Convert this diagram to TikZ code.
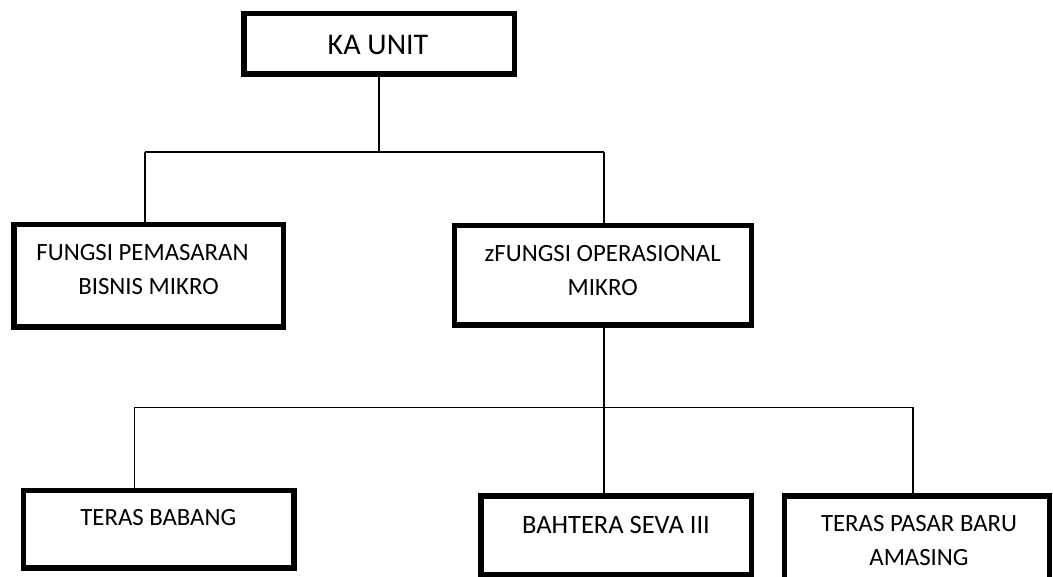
\documentclass[tikz,border=0pt]{standalone}
\usepackage{fontspec}
\setmainfont{Carlito}
\begin{document}
\begin{tikzpicture}[x=1pt,y=-1pt,
  box/.style={draw=black, line width=5.5pt, fill=white, inner sep=0pt},
  conn/.style={draw=black, line width=1.3pt},
  txt/.style={inner sep=0pt, align=center, text=black, font=\fontsize{24.8}{34}\selectfont},
  bigtxt/.style={inner sep=0pt, align=center, text=black, font=\fontsize{30}{36}\selectfont},
  midtxt/.style={inner sep=0pt, align=center, text=black, font=\fontsize{26.5}{34}\selectfont}]
\useasboundingbox (0,0) rectangle (1053,577);
\clip (0,0) rectangle (1053,577);
% junction coordinates
\coordinate (busAL) at (145,152);
\coordinate (busAR) at (604,152);
\coordinate (busBL) at (134.7,407.5);
\coordinate (busBR) at (913,407.5);
% connectors (drawn first, boxes cover ends)
\coordinate (kabot) at (379,74);
\draw[conn] (kabot) -- (kabot |- busAL);
\draw[conn] (busAL) -- (busAR);
\draw[conn] (busAL) -- (145,225);
\draw[conn] (busAR) -- (604,226);
\draw[conn] (604,325) -- (604,496);
\draw[conn] (busBL) -- (busBR);
\draw[conn] (busBL) -- (134.7,491);
\draw[conn] (busBR) -- (913,496);
% boxes
\node[box, minimum width=270.5pt, minimum height=60.5pt] (ka) at (379,44) {};
\node[box, minimum width=269.5pt, minimum height=102.5pt] (fp) at (148.5,276) {};
\node[box, minimum width=296.8pt, minimum height=99.5pt] (fo) at (602.9,275.25) {};
\node[box, minimum width=270.5pt, minimum height=77.5pt] (tb) at (158.75,529.25) {};
\node[box, minimum width=270.5pt, minimum height=78.5pt] (bs) at (616,535) {};
\node[box, minimum width=264.8pt, minimum height=84pt] (tp) at (916.9,537.9) {};
% texts
\node[bigtxt] (tka) at (378,45) {KA UNIT};
\node[txt] (tfp) at (148.5,270) {FUNGSI PEMASARAN\hspace*{12pt}\\BISNIS MIKRO};
\node[txt] (tfo) at (602.7,270.3) {zFUNGSI OPERASIONAL\\MIKRO};
\node[txt] (ttb) at (158.3,518) {TERAS BABANG};
\node[midtxt] (tbs) at (616,525) {BAHTERA SEVA III};
\node[txt] (ttp) at (919,541) {TERAS PASAR BARU\\AMASING};
\end{tikzpicture}
\end{document}
